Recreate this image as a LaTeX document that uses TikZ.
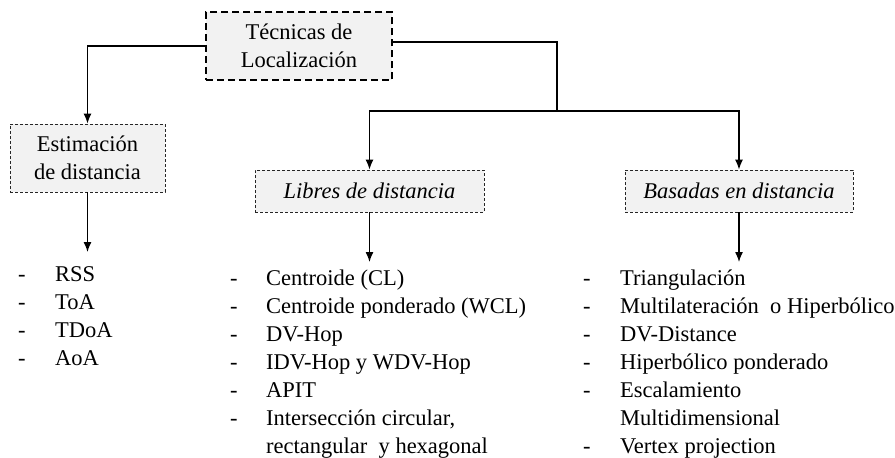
\documentclass[tikz,border=0pt]{standalone}
\usepackage{fontspec}
\setmainfont{Liberation Serif}
\usetikzlibrary{arrows.meta, positioning, calc}
\definecolor{boxgray}{HTML}{F2F2F2}
\newcommand{\bigtxt}{\fontsize{22.5}{28}\selectfont}

\begin{document}
\begin{tikzpicture}[x=1pt, y=-1pt,
        % --- Styles ---
        topbox/.style={rectangle, draw=black, fill=boxgray, line width=2.4pt, dash pattern=on 7pt off 4pt, minimum width=186pt, minimum height=68pt, align=center, font=\bigtxt},
        catbox/.style={rectangle, draw=black!85, fill=boxgray, line width=0.9pt, dash pattern=on 3pt off 2pt, minimum height=42pt, align=center, font=\bigtxt},
        lst/.style={anchor=north west, inner xsep=0pt, inner ysep=10pt, font=\bigtxt},
        % --- Line Styles ---
        line/.style={draw, -{Latex[length=10pt, width=8pt]}, color=black, line width=1.3pt},
        plain/.style={draw, color=black, line width=1.3pt}
    ]
        \useasboundingbox (0,0) rectangle (895,458);

        % --- Boxes ---
        \node[topbox] (tecnicas) at (299,46) {T\'ecnicas de\\Localizaci\'on};
        \node[catbox, minimum width=155pt, minimum height=68pt] (estim) at (87.5,158) {Estimaci\'on\\de distancia};
        \node[catbox, minimum width=229pt] (libres) at (369.5,191) {\itshape Libres de distancia};
        \node[catbox, minimum width=228pt] (basadas) at (739,191) {\itshape Basadas en distancia};
        \coordinate (split) at (557,111);

        % --- Lists ---
        \node[lst] (lstestim) at (18,252) {\begin{tabular}{@{}p{37pt}@{}l@{}}
            - & RSS\\ - & ToA\\ - & TDoA\\ - & AoA
        \end{tabular}};
        \node[lst] (lstlibres) at (230,256) {\begin{tabular}{@{}p{36pt}@{}l@{}}
            - & Centroide (CL)\\ - & Centroide ponderado (WCL)\\ - & DV-Hop\\
            - & IDV-Hop y WDV-Hop\\ - & APIT\\ - & Intersecci\'on circular,\\
              & rectangular\ \ y hexagonal
        \end{tabular}};
        \node[lst] (lstbasadas) at (583,256) {\begin{tabular}{@{}p{37pt}@{}l@{}}
            - & Triangulaci\'on\\ - & Multilateraci\'on\ \ o Hiperb\'olico\\ - & DV-Distance\\
            - & Hiperb\'olico ponderado\\ - & Escalamiento\\ & Multidimensional\\
            - & Vertex projection
        \end{tabular}};

        % --- Connections ---
        \draw[line] (tecnicas.west) -| (estim.north);
        \draw[plain] ([yshift=4pt]tecnicas.east) -| (split);
        \draw[line] (split) -| (libres.north);
        \draw[line] (split) -| (basadas.north);
        \draw[line] (estim.south) -- (estim.south |- lstestim.north);
        \draw[line] (libres.south) -- ([yshift=-6pt]libres.south |- lstlibres.north);
        \draw[line] (basadas.south) -- ([yshift=-6pt]basadas.south |- lstbasadas.north);

    \end{tikzpicture}
\end{document}
